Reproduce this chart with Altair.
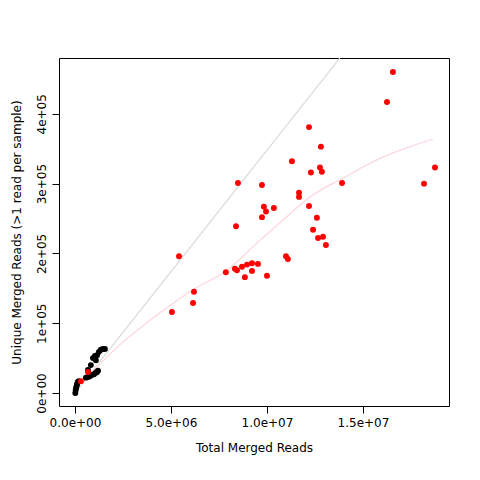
import altair as alt
import pandas as pd

# red samples
red_x = [1.656e7, 1.625e7, 1.219e7, 1.281e7, 1.130e7, 1.229e7, 1.276e7, 1.286e7, 1.875e7,
         8.49e6, 9.74e6, 1.391e7, 1.818e7, 1.167e7, 1.167e7, 9.84e6, 9.95e6, 1.036e7, 9.74e6,
         1.219e7, 1.260e7, 8.39e6, 1.240e7, 1.266e7, 1.292e7, 1.307e7, 5.42e6, 1.099e7, 1.109e7,
         7.86e6, 8.33e6, 8.44e6, 8.70e6, 8.96e6, 9.22e6, 9.53e6, 9.22e6, 8.85e6, 1.000e7,
         6.20e6, 6.15e6, 5.05e6, 6.8e5, 3.1e5]
red_y = [4.60e5, 4.17e5, 3.81e5, 3.53e5, 3.32e5, 3.16e5, 3.23e5, 3.17e5, 3.23e5,
         3.01e5, 2.98e5, 3.01e5, 3.00e5, 2.87e5, 2.81e5, 2.67e5, 2.60e5, 2.65e5, 2.52e5,
         2.68e5, 2.51e5, 2.39e5, 2.34e5, 2.22e5, 2.24e5, 2.12e5, 1.96e5, 1.96e5, 1.92e5,
         1.73e5, 1.78e5, 1.76e5, 1.81e5, 1.84e5, 1.86e5, 1.85e5, 1.75e5, 1.66e5, 1.68e5,
         1.45e5, 1.29e5, 1.16e5, 3.0e4, 1.7e4]

# black samples
black_x = [2e4, 4e4, 6e4, 9e4, 1.1e5, 1.5e5, 2.0e5, 5.7e5, 6.8e5, 7.8e5, 8.9e5, 9.9e5, 1.09e6,
           1.15e6, 1.2e6, 6.8e5, 8.3e5, 9.4e5, 1.04e6, 1.15e6, 1.25e6, 1.35e6, 1.46e6, 1.56e6, 1.09e6]
black_y = [0, 4.3e3, 7.2e3, 1.0e4, 1.3e4, 1.6e4, 1.7e4, 2.2e4, 2.3e4, 2.4e4, 2.6e4, 2.7e4, 2.9e4,
           3.0e4, 3.2e4, 3.3e4, 4.0e4, 5.0e4, 5.3e4, 5.4e4, 5.9e4, 6.2e4, 6.3e4, 6.3e4, 4.7e4]

# smooth fit (pink)
fit_x = [3.6e5, 2.34e6, 4.43e6, 6.15e6, 7.92e6, 9.64e6, 1.068e7, 1.224e7, 1.396e7, 1.573e7, 1.745e7, 1.865e7]
fit_y = [1.43e4, 6.9e4, 1.15e5, 1.48e5, 1.76e5, 2.19e5, 2.44e5, 2.81e5, 3.08e5, 3.34e5, 3.53e5, 3.64e5]

# reference line (gray)
ref_x = [0, 1.38e7]
ref_y = [0, 4.80e5]

FONT = "DejaVu Sans"
XDOM = [-8.3e5, 1.948e7]
YDOM = [-1.86e4, 4.80e5]

xax = alt.X("x:Q", title="Total Merged Reads", scale=alt.Scale(domain=XDOM, nice=False, zero=False),
            axis=alt.Axis(values=[0, 5e6, 1e7, 1.5e7], grid=False, tickSize=7, labelPadding=4,
                          titlePadding=14, labelFlush=False, labelBound=False,
                          labelExpr="{'0':'0.0e+00','5000000':'5.0e+06','10000000':'1.0e+07','15000000':'1.5e+07'}[datum.value+'']"))
yax = alt.Y("y:Q", title="Unique Merged Reads (>1 read per sample)",
            scale=alt.Scale(domain=YDOM, nice=False, zero=False),
            axis=alt.Axis(values=[0, 1e5, 2e5, 3e5, 4e5], grid=False, tickSize=7, labelAngle=270,
                          labelAlign="center", labelBaseline="bottom", labelPadding=4, titlePadding=12,
                          labelFlush=False, labelBound=False, labelOverlap=False,
                          labelExpr="datum.value == 0 ? '0e+00' : (datum.value/100000) + 'e+05'"))

ref = alt.Chart(pd.DataFrame({"x": ref_x, "y": ref_y})).mark_line(
    color="#d9d9d9", strokeWidth=1.2, clip=True).encode(x=xax, y=yax)
fit = alt.Chart(pd.DataFrame({"x": fit_x, "y": fit_y})).mark_line(
    color="#ffd6dc", strokeWidth=1.2, interpolate="monotone", clip=True).encode(x=xax, y=yax)
blk = alt.Chart(pd.DataFrame({"x": black_x, "y": black_y})).mark_circle(
    color="black", size=35, opacity=1).encode(x=xax, y=yax)
red = alt.Chart(pd.DataFrame({"x": red_x, "y": red_y})).mark_circle(
    color="#ff0000", size=35, opacity=1).encode(x=xax, y=yax)

chart = (ref + fit + blk + red).properties(
    width=390, height=348,
    autosize=alt.AutoSizeParams(type="none"),
    padding={"left": 51, "top": 50, "right": 20, "bottom": 70},
).configure_view(stroke="black", strokeWidth=1).configure_axis(
    domain=False, tickColor="black", labelFont=FONT, titleFont=FONT, labelFontSize=12,
    titleFontSize=12, labelColor="black", titleColor="black", titleFontWeight="normal",
)

chart.save("out.html", embed_options={"renderer": "svg", "actions": False})
